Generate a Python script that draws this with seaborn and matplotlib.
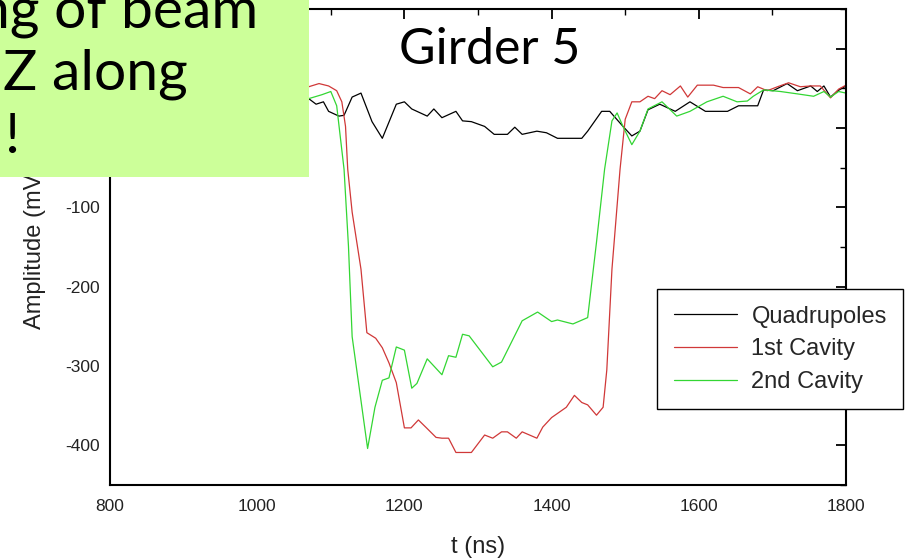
import matplotlib
matplotlib.use("Agg")
import matplotlib.pyplot as plt
import numpy as np
import pandas as pd
import seaborn as sns
from matplotlib.patches import Rectangle
from matplotlib.ticker import MultipleLocator

# ---------------- data ----------------
series_names = ["Quadrupoles", "1st Cavity", "2nd Cavity"]
series_colors = ["#000000", "#D03838", "#33D633"]

quad_t = [1000, 1040, 1070, 1080, 1090, 1097, 1111, 1118, 1129, 1141, 1156, 1170, 1189, 1200,
          1210, 1231, 1240, 1251, 1270, 1279, 1291, 1309, 1322, 1340, 1350, 1360, 1380,
          1393, 1408, 1441, 1449, 1468, 1479, 1497, 1509, 1520, 1531, 1547, 1568, 1588,
          1609, 1639, 1654, 1680, 1688, 1701, 1720, 1734, 1752, 1761, 1770, 1779, 1789, 1800]
quad_mv = [40, 43, 37, 30, 33, 21, 15, 16, 39, 44, 8, -13, 30, 33,
           24, 15, 24, 13, 21, 9, 8, 2, -8, -8, 1, -8, -4,
           -6, -13, -13, -4, 21, 21, 2, -10, -4, 23, 30, 21, 33,
           21, 21, 28, 28, 48, 47, 56, 47, 53, 46, 53, 39, 47, 53]

cav1_t = [1000, 1040, 1070, 1084, 1097, 1108, 1115, 1120, 1123, 1129, 1141, 1149, 1161, 1170,
          1179, 1189, 1200, 1209, 1219, 1230, 1243, 1251, 1260, 1270, 1291, 1309, 1320,
          1332, 1340, 1352, 1360, 1380, 1388, 1400, 1420, 1431, 1441, 1449, 1461, 1470,
          1475, 1482, 1493, 1500, 1509, 1520, 1531, 1540, 1550, 1561, 1575, 1585, 1598,
          1620, 1633, 1654, 1670, 1680, 1693, 1707, 1722, 1738, 1752, 1765, 1779, 1790, 1800]
cav1_mv = [50, 54, 52, 56, 53, 47, 33, 2, -52, -106, -178, -258, -265, -277,
           -296, -321, -378, -378, -368, -378, -390, -391, -391, -409, -409, -387, -391,
           -383, -383, -391, -383, -391, -377, -365, -352, -337, -346, -349, -362, -352,
           -305, -178, -52, 11, 33, 33, 40, 37, 47, 42, 53, 39, 54,
           54, 51, 51, 43, 52, 47, 52, 57, 52, 53, 53, 38, 49, 54]

cav2_t = [1000, 1040, 1070, 1088, 1100, 1108, 1118, 1124, 1129, 1150, 1160, 1170, 1179, 1189,
          1200, 1210, 1217, 1231, 1251, 1260, 1270, 1279, 1288, 1320, 1332, 1360, 1381,
          1400, 1408, 1429, 1449, 1461, 1472, 1482, 1489, 1497, 1509, 1520, 1531, 1550,
          1570, 1588, 1611, 1633, 1652, 1666, 1674, 1688, 1711, 1734, 1756, 1770, 1779, 1790, 1800]
cav2_mv = [44, 40, 37, 42, 46, 28, -52, -149, -263, -404, -352, -318, -315, -276,
           -280, -328, -322, -291, -311, -287, -289, -260, -262, -301, -295, -243, -232,
           -244, -242, -247, -239, -144, -52, 9, 19, 2, -21, -4, 24, 33,
           15, 21, 33, 40, 33, 34, 40, 48, 46, 43, 40, 46, 39, 46, 44]

x_ticks = [800, 1000, 1200, 1400, 1600, 1800]
y_ticks = [-400, -300, -200, -100, 0, 100]

# ---------------- build table ----------------
frames = []
for name, t, v in zip(series_names, [quad_t, cav1_t, cav2_t], [quad_mv, cav1_mv, cav2_mv]):
    frames.append(pd.DataFrame({"t": t, "mv": v, "series": name}))
df = pd.concat(frames, ignore_index=True)

# ---------------- style ----------------
sns.set_theme(style="white")
plt.rcParams["font.family"] = ["Liberation Sans", "DejaVu Sans"]
plt.rcParams["axes.unicode_minus"] = False

W, H = 907, 558
fig = plt.figure(figsize=(W / 100, H / 100), dpi=100)
ax = fig.add_axes([110 / W, 1 - 485 / H, (846 - 110) / W, (485 - 9) / H])

sns.lineplot(data=df, x="t", y="mv", hue="series", hue_order=series_names,
             palette=dict(zip(series_names, series_colors)), estimator=None,
             sort=False, linewidth=0.9, ax=ax)

ax.set_xlim(800, 1800)
ax.set_ylim(-450, 150)
ax.set_xticks(x_ticks)
ax.set_yticks(y_ticks)
ax.xaxis.set_minor_locator(MultipleLocator(100))
ax.yaxis.set_minor_locator(MultipleLocator(50))
ax.tick_params(which="both", direction="in", top=True, right=True, color="black",
               labelsize=12.5, labelcolor="#222222")
ax.tick_params(which="major", length=7, width=1.3)
ax.tick_params(which="minor", length=4, width=1.0)
ax.tick_params(axis="x", pad=10)
ax.tick_params(axis="y", pad=7)
for s in ax.spines.values():
    s.set_color("black")
    s.set_linewidth(1.5)

ax.set_xlabel("t (ns)", fontsize=17, color="#222222", labelpad=16)
ax.set_ylabel("Amplitude (mV)", fontsize=17, color="#222222", labelpad=14)

handles, labels = ax.get_legend_handles_labels()
leg = ax.legend(handles, labels, loc="upper left",
                bbox_to_anchor=(657 / W, 1 - 289 / H), bbox_transform=fig.transFigure,
                fontsize=17, frameon=True, fancybox=False, shadow=False, framealpha=1,
                edgecolor="black", handlelength=2.7, handletextpad=0.6,
                labelspacing=0.45, borderpad=0.7, borderaxespad=0)
leg.get_frame().set_linewidth(1.0)
for line in leg.get_lines():
    line.set_linewidth(0.9)

# Title inside plot
fig.text(490 / W, 1 - 50 / H, "Girder 5", fontsize=36, family="Lato",
         ha="center", va="center", color="black")

# Green overlay box with clipped text
box = Rectangle((0, 1 - 177 / H), 309 / W, 177 / H, transform=fig.transFigure,
                facecolor="#CCFF99", edgecolor="none", zorder=10)
fig.add_artist(box)
fig.text(-22 / W, 1 - 27 / H, "ng of beam", fontsize=41, family="Lato",
         ha="left", va="baseline", color="black", zorder=11)
fig.text(3 / W, 1 - 90 / H, "Z along", fontsize=41, family="Lato",
         ha="left", va="baseline", color="black", zorder=11)
fig.text(5 / W, 1 - 153 / H, "!", fontsize=41, family="Lato",
         ha="left", va="baseline", color="black", zorder=11)

fig.savefig("out.png", dpi=100)
